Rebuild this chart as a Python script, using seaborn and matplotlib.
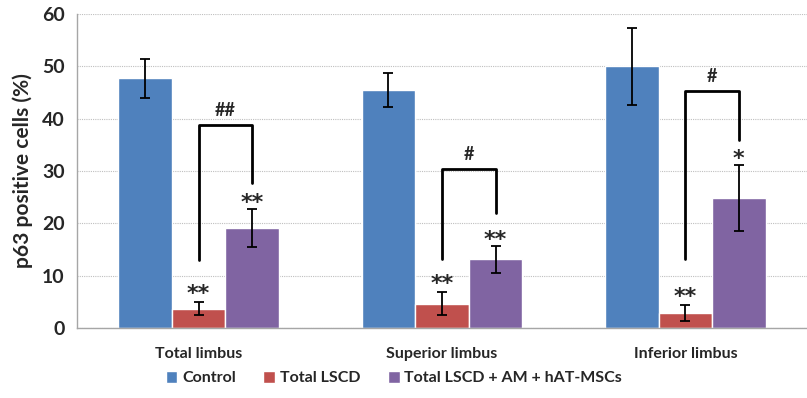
import numpy as np
import pandas as pd
import matplotlib
matplotlib.use("Agg")
import matplotlib.pyplot as plt
import seaborn as sns

# data
regions = ["Total limbus", "Superior limbus", "Inferior limbus"]
groups = ["Control", "Total LSCD", "Total LSCD + AM + hAT-MSCs"]
control = [47.7, 45.5, 50.0]
control_err = [3.7, 3.2, 7.4]
lscd = [3.7, 4.6, 2.9]
lscd_err = [1.2, 2.2, 1.5]
treated = [19.1, 13.1, 24.8]
treated_err = [3.6, 2.6, 6.3]

# significance marks
lscd_stars = ["**", "**", "**"]
treated_stars = ["**", "**", "*"]
bracket_top = [38.8, 30.3, 45.3]
bracket_left_end = [13.0, 13.1, 13.2]
bracket_right_end = [27.7, 22.0, 36.0]
bracket_labels = ["##", "#", "#"]

colors = ["#4F81BD", "#C0504D", "#8064A2"]

df = pd.DataFrame({
    "region": regions * 3,
    "group": np.repeat(groups, 3),
    "value": control + lscd + treated,
    "err": control_err + lscd_err + treated_err,
})

sns.set_style("white")
plt.rcParams["font.family"] = ["Lato", "DejaVu Sans"]

fig = plt.figure(figsize=(8.07, 3.98), dpi=100)
ax = fig.add_axes([0.0954, 0.176, 0.9046, 0.789])

sns.barplot(data=df, x="region", y="value", hue="group", order=regions,
            hue_order=groups, palette=colors, width=0.66, gap=0,
            errorbar=None, saturation=1, ax=ax, legend=True, zorder=2)

# bar centres per group, in the order seaborn drew them
centers = {}
for gi, g in enumerate(groups):
    cont = ax.containers[gi]
    xs = [p.get_x() + p.get_width() / 2 for p in cont.patches]
    centers[g] = xs
    vals = df[df.group == g]["value"].values
    errs = df[df.group == g]["err"].values
    ax.errorbar(xs, vals, yerr=errs, fmt="none", ecolor="black",
                elinewidth=1.3, capsize=3.5, capthick=1.3, zorder=3)

# stars and brackets
star_font = dict(family="DejaVu Sans", fontsize=16, fontweight="bold")
for i in range(3):
    xl = centers["Total LSCD"][i]
    xr = centers[groups[2]][i]
    ax.text(xl, lscd[i] + lscd_err[i] - 0.4, lscd_stars[i], ha="center",
            va="bottom", **star_font)
    ax.text(xr, treated[i] + treated_err[i] - 0.8, treated_stars[i],
            ha="center", va="bottom", **star_font)
    ax.plot([xl, xl, xr, xr],
            [bracket_left_end[i], bracket_top[i], bracket_top[i], bracket_right_end[i]],
            color="black", lw=2, zorder=3)
    ax.text((xl + xr) / 2, bracket_top[i] + 1.2, bracket_labels[i],
            ha="center", va="bottom", fontsize=13, fontweight="bold")

ax.set_ylim(0, 60)
ax.set_yticks(range(0, 61, 10))
ax.set_xlim(-0.5, 2.5)
ax.yaxis.grid(True, color="#BFBFBF", linestyle=(0, (1, 1)), linewidth=0.8)
ax.set_axisbelow(True)
for s in ["top", "right"]:
    ax.spines[s].set_visible(False)
for s in ["left", "bottom"]:
    ax.spines[s].set_color("#A6A6A6")
    ax.spines[s].set_linewidth(1)

ax.tick_params(axis="y", length=5, color="#A6A6A6", labelsize=14, pad=4)
for t in ax.get_yticklabels():
    t.set_fontweight("bold")
ax.tick_params(axis="x", which="major", length=0, labelsize=11.5, pad=14)
ax.set_xticks([0.5, 1.5], minor=True)
ax.tick_params(axis="x", which="minor", length=5, color="#A6A6A6", direction="out")
for t in ax.get_xticklabels():
    t.set_fontweight("bold")

ax.set_xlabel("")
ax.set_ylabel("p63 positive cells (%)", fontsize=15, fontweight="bold", labelpad=6)

handles, labels = ax.get_legend_handles_labels()
leg = ax.legend(handles, labels, loc="center", bbox_to_anchor=(0.434, -0.16),
                ncol=3, frameon=False, fontsize=11.5, handlelength=0.75,
                handleheight=0.75, handletextpad=0.3, columnspacing=1.7)
for t in leg.get_texts():
    t.set_fontweight("bold")

fig.savefig("out.png", dpi=100)
